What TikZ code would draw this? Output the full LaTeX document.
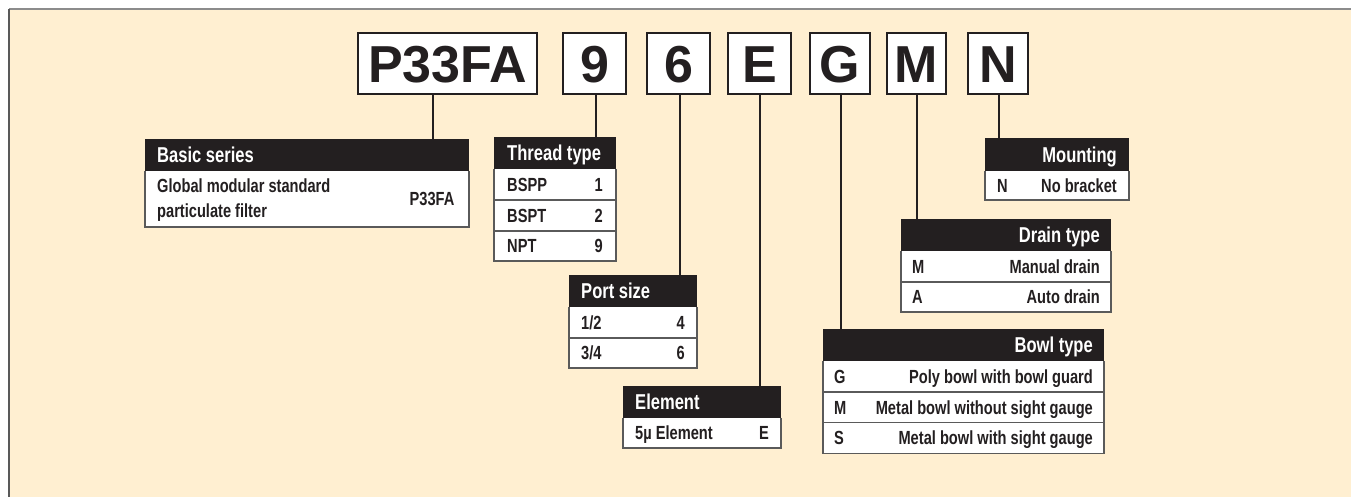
\documentclass[tikz,border=0pt]{standalone}
\usepackage{fontspec}
\setmainfont{Liberation Sans}
\newfontfamily\cnd[FakeStretch=0.77]{Liberation Sans}
\definecolor{ink}{HTML}{231F20}
\definecolor{bgc}{HTML}{FFEFD1}
\definecolor{sepc}{HTML}{5A5A5A}
\tikzset{
  codebox/.style={draw=ink, line width=2pt, fill=white, inner sep=0pt, outer sep=0pt, anchor=north west,
    text=ink, font=\bfseries\fontsize{52}{52}\selectfont, text height=37.5pt, text depth=0pt},
  hdr/.style={fill=ink, inner sep=0pt, outer sep=0pt, anchor=north west, minimum height=32pt},
  rowb/.style={fill=white, inner sep=0pt, outer sep=0pt, anchor=north west},
  htxt/.style={text=white, inner sep=0pt, font=\cnd\bfseries\fontsize{21.5}{24}\selectfont, text height=15.4pt, text depth=0pt},
  ltxt/.style={text=ink, inner sep=0pt, font=\cnd\bfseries\fontsize{19}{25}\selectfont, text height=13.6pt, text depth=0pt},
  mtxt/.style={text=ink, inner sep=0pt, font=\cnd\bfseries\fontsize{19}{25}\selectfont, align=left},
  conn/.style={draw=ink, line width=2pt},
  tblframe/.style={draw=sepc, line width=1.2pt},
  rowsep/.style={draw=sepc, line width=1.1pt}
}
\begin{document}
\begin{tikzpicture}[x=1pt,y=-1pt]
\useasboundingbox (0,0) rectangle (1351,497);
\fill[bgc] (9,9) rectangle (1351,497);
\draw[draw=black!45, line width=1.5pt] (9,9) -- (1351,9);
\draw[draw=black!65, line width=2pt] (9,9) -- (9,497);

% code boxes
\node[codebox, minimum width=179pt, minimum height=61pt] (cP) at (358,33) {P33FA};
\node[codebox, minimum width=63pt, minimum height=61pt] (c9) at (563,33) {9};
\node[codebox, minimum width=63pt, minimum height=61pt] (c6) at (647,33) {6};
\node[codebox, minimum width=63pt, minimum height=61pt] (cE) at (728,33) {E};
\node[codebox, minimum width=60pt, minimum height=61pt] (cG) at (810,33) {G};
\node[codebox, minimum width=59pt, minimum height=61pt] (cM) at (887,33) {M};
\node[codebox, minimum width=60pt, minimum height=61pt] (cN) at (968,33) {N};

% Basic series
\node[hdr, minimum width=324pt] (bsH) at (145,139) {};
\node[htxt, anchor=west] (bsT) at ([xshift=12pt]bsH.west) {Basic series};
\node[rowb, minimum width=324pt, minimum height=56pt] (bs1) at (bsH.south west) {};
\node[mtxt, anchor=west] (bs1a) at ([xshift=12pt,yshift=-1pt]bs1.west) {Global modular standard\\particulate filter};
\node[ltxt] (bs1b) at ([xshift=-37pt]bs1.east) {P33FA};
\draw[tblframe] (bsH.south west) -- (bs1.south west) -- (bs1.south east) -- (bsH.south east);

% Thread type
\node[hdr, minimum width=122pt] (thH) at (494,137) {};
\node[htxt, anchor=west] (thT) at ([xshift=13pt]thH.west) {Thread type};
\node[rowb, minimum width=122pt, minimum height=31pt] (th1) at (thH.south west) {};
\node[rowb, minimum width=122pt, minimum height=31pt] (th2) at (th1.south west) {};
\node[rowb, minimum width=122pt, minimum height=30pt] (th3) at (th2.south west) {};
\node[ltxt, anchor=west] (th1a) at ([xshift=13pt]th1.west) {BSPP};
\node[ltxt, anchor=east] (th1b) at ([xshift=-13pt]th1.east) {1};
\node[ltxt, anchor=west] (th2a) at ([xshift=13pt]th2.west) {BSPT};
\node[ltxt, anchor=east] (th2b) at ([xshift=-13pt]th2.east) {2};
\node[ltxt, anchor=west] (th3a) at ([xshift=13pt]th3.west) {NPT};
\node[ltxt, anchor=east] (th3b) at ([xshift=-13pt]th3.east) {9};
\draw[rowsep] (th1.south west) -- (th1.south east);
\draw[rowsep] (th2.south west) -- (th2.south east);
\draw[tblframe] (thH.south west) -- (th3.south west) -- (th3.south east) -- (thH.south east);

% Port size
\node[hdr, minimum width=128pt] (psH) at (569,275) {};
\node[htxt, anchor=west] (psT) at ([xshift=12pt]psH.west) {Port size};
\node[rowb, minimum width=128pt, minimum height=31pt] (ps1) at (psH.south west) {};
\node[rowb, minimum width=128pt, minimum height=30pt] (ps2) at (ps1.south west) {};
\node[ltxt, anchor=west] (ps1a) at ([xshift=12pt]ps1.west) {1/2};
\node[ltxt, anchor=east] (ps1b) at ([xshift=-12pt]ps1.east) {4};
\node[ltxt, anchor=west] (ps2a) at ([xshift=12pt]ps2.west) {3/4};
\node[ltxt, anchor=east] (ps2b) at ([xshift=-12pt]ps2.east) {6};
\draw[rowsep] (ps1.south west) -- (ps1.south east);
\draw[tblframe] (psH.south west) -- (ps2.south west) -- (ps2.south east) -- (psH.south east);

% Element
\node[hdr, minimum width=158pt] (elH) at (623,386) {};
\node[htxt, anchor=west] (elT) at ([xshift=12pt]elH.west) {Element};
\node[rowb, minimum width=158pt, minimum height=30pt] (el1) at (elH.south west) {};
\node[ltxt, anchor=west] (el1a) at ([xshift=12pt]el1.west) {5µ Element};
\node[ltxt, anchor=east] (el1b) at ([xshift=-12pt]el1.east) {E};
\draw[tblframe] (elH.south west) -- (el1.south west) -- (el1.south east) -- (elH.south east);

% Bowl type
\node[hdr, minimum width=281pt] (bwH) at (823,329) {};
\node[htxt, anchor=east] (bwT) at ([xshift=-11pt]bwH.east) {Bowl type};
\node[rowb, minimum width=281pt, minimum height=31pt] (bw1) at (bwH.south west) {};
\node[rowb, minimum width=281pt, minimum height=30.5pt] (bw2) at (bw1.south west) {};
\node[rowb, minimum width=281pt, minimum height=31pt] (bw3) at (bw2.south west) {};
\node[ltxt, anchor=west] (bw1a) at ([xshift=11pt]bw1.west) {G};
\node[ltxt, anchor=east] (bw1b) at ([xshift=-11pt]bw1.east) {Poly bowl with bowl guard};
\node[ltxt, anchor=west] (bw2a) at ([xshift=11pt]bw2.west) {M};
\node[ltxt, anchor=east] (bw2b) at ([xshift=-11pt]bw2.east) {Metal bowl without sight gauge};
\node[ltxt, anchor=west] (bw3a) at ([xshift=11pt]bw3.west) {S};
\node[ltxt, anchor=east] (bw3b) at ([xshift=-11pt]bw3.east) {Metal bowl with sight gauge};
\draw[rowsep] (bw1.south west) -- (bw1.south east);
\draw[rowsep] (bw2.south west) -- (bw2.south east);
\draw[tblframe] (bwH.south west) -- (bw3.south west) -- (bw3.south east) -- (bwH.south east);

% Drain type
\node[hdr, minimum width=210pt] (drH) at (901,219) {};
\node[htxt, anchor=east] (drT) at ([xshift=-11pt]drH.east) {Drain type};
\node[rowb, minimum width=210pt, minimum height=31pt] (dr1) at (drH.south west) {};
\node[rowb, minimum width=210pt, minimum height=30pt] (dr2) at (dr1.south west) {};
\node[ltxt, anchor=west] (dr1a) at ([xshift=11pt]dr1.west) {M};
\node[ltxt, anchor=east] (dr1b) at ([xshift=-11pt]dr1.east) {Manual drain};
\node[ltxt, anchor=west] (dr2a) at ([xshift=11pt]dr2.west) {A};
\node[ltxt, anchor=east] (dr2b) at ([xshift=-11pt]dr2.east) {Auto drain};
\draw[rowsep] (dr1.south west) -- (dr1.south east);
\draw[tblframe] (drH.south west) -- (dr2.south west) -- (dr2.south east) -- (drH.south east);

% Mounting
\node[hdr, minimum width=144pt, minimum height=33pt] (moH) at (985,138) {};
\node[htxt, anchor=east] (moT) at ([xshift=-12pt]moH.east) {Mounting};
\node[rowb, minimum width=144pt, minimum height=29pt] (mo1) at (moH.south west) {};
\node[ltxt, anchor=west] (mo1a) at ([xshift=12pt]mo1.west) {N};
\node[ltxt, anchor=east] (mo1b) at ([xshift=-12pt]mo1.east) {No bracket};
\draw[tblframe] (moH.south west) -- (mo1.south west) -- (mo1.south east) -- (moH.south east);

% connectors
\draw[conn] ([xshift=-14.5pt]cP.south) -- ([xshift=-14.5pt]cP.south |- bsH.north);
\draw[conn] ([xshift=1.5pt]c9.south) -- ([xshift=1.5pt]c9.south |- thH.north);
\draw[conn] ([xshift=1.5pt]c6.south) -- ([xshift=1.5pt]c6.south |- psH.north);
\draw[conn] (cE.south) -- (cE.south |- elH.north);
\draw[conn] ([xshift=1pt]cG.south) -- ([xshift=1pt]cG.south |- bwH.north);
\draw[conn] (cM.south) -- (cM.south |- drH.north);
\draw[conn] ([xshift=1pt]cN.south) -- ([xshift=1pt]cN.south |- moH.north);
\end{tikzpicture}
\end{document}
